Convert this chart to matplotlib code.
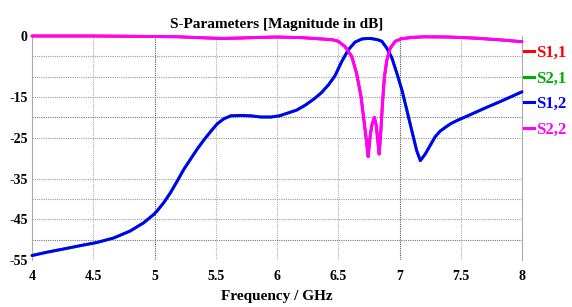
import matplotlib
matplotlib.use("Agg")
import matplotlib.pyplot as plt
from matplotlib.lines import Line2D

# ---- data ----
freq_s12 = [4.0, 4.12, 4.257, 4.39, 4.53, 4.666, 4.80, 4.91, 4.994, 5.02, 5.076, 5.13,
            5.186, 5.24, 5.295, 5.35, 5.404, 5.46, 5.514, 5.568, 5.623, 5.705, 5.787,
            5.87, 5.95, 6.02, 6.09, 6.16, 6.23, 6.3, 6.36, 6.42, 6.473, 6.528, 6.582,
            6.637, 6.692, 6.74, 6.774, 6.82, 6.856, 6.897, 6.938, 6.979, 7.02, 7.06,
            7.10, 7.14, 7.17, 7.21, 7.25, 7.29, 7.33, 7.38, 7.42, 7.48, 7.55, 7.69,
            7.83, 8.0]
s12_db = [-53.9, -53.1, -52.3, -51.5, -50.7, -49.6, -47.9, -45.9, -43.8, -43.0, -40.9,
          -38.5, -35.6, -32.7, -30.2, -27.7, -25.5, -23.4, -21.5, -20.3, -19.6, -19.5,
          -19.6, -19.9, -19.9, -19.6, -18.9, -18.2, -17.0, -15.5, -14.0, -12.0, -9.8,
          -6.3, -3.4, -1.5, -0.74, -0.6, -0.66, -0.9, -1.3, -3.0, -5.4, -9.2, -13.3,
          -18.2, -23.2, -28.1, -30.6, -29.0, -26.9, -24.8, -23.4, -22.3, -21.5, -20.6,
          -19.7, -17.8, -16.0, -13.7]

freq_s22 = [4.0, 4.5, 4.9, 5.2, 5.4, 5.55, 5.7, 5.85, 6.0, 6.2, 6.35, 6.45, 6.5, 6.555,
            6.61, 6.65, 6.686, 6.713, 6.733, 6.744, 6.76, 6.774, 6.795, 6.81, 6.823,
            6.834, 6.848, 6.861, 6.877, 6.897, 6.924, 6.965, 7.02, 7.1, 7.2, 7.4, 7.6,
            7.8, 8.0]
s22_db = [0.0, 0.0, -0.1, -0.2, -0.45, -0.6, -0.5, -0.35, -0.25, -0.4, -0.7, -0.9, -1.3,
          -2.6, -5.0, -9.2, -14.9, -21.5, -26.5, -29.6, -24.8, -21.9, -20.0, -21.9,
          -25.7, -29.0, -23.2, -16.6, -10.0, -5.9, -3.0, -1.3, -0.66, -0.35, -0.2,
          -0.25, -0.5, -0.9, -1.4]

# symmetric network: S1,1 coincides with S2,2 and S2,1 with S1,2
freq_s11, s11_db = freq_s22, s22_db
freq_s21, s21_db = freq_s12, s12_db

series_names = ["S1,1", "S2,1", "S1,2", "S2,2"]
series_colors = ["#ff0000", "#00b000", "#0000ff", "#ff00ff"]

xtick_values = [4, 4.5, 5, 5.5, 6, 6.5, 7, 7.5, 8]
xtick_labels = ["4", "4.5", "5", "5.5", "6", "6.5", "7", "7.5", "8"]
ytick_values = [0, -15, -25, -35, -45, -55]
ytick_labels = ["0", "-15", "-25", "-35", "-45", "-55"]

title = "S-Parameters [Magnitude in dB]"
xlabel = "Frequency / GHz"

# ---- figure ----
plt.rcParams["font.family"] = ["Liberation Serif", "DejaVu Serif"]
plt.rcParams["font.weight"] = "bold"

fig = plt.figure(figsize=(5.72, 3.07), dpi=100)
ax = fig.add_axes([32 / 572, 1 - 260 / 307, 490 / 572, 224 / 307])

xs = [freq_s11, freq_s21, freq_s12, freq_s22]
ys = [s11_db, s21_db, s12_db, s22_db]
for x, y, c in zip(xs, ys, series_colors):
    ax.plot(x, y, color=c, lw=2.1, solid_capstyle="round", solid_joinstyle="round",
            clip_on=False, zorder=3)

ax.set_xlim(4, 8)
ax.set_ylim(-55, 0)

# grid lines (dotted, gray)
for xv in [4.5, 5, 5.5, 6, 6.5, 7, 7.5]:
    col = "#555555" if xv in (5, 7) else "#b0b0b0"
    ax.axvline(xv, color=col, ls=(0, (1, 1)), lw=0.8, zorder=1)
for yv in [-5, -10, -15, -20, -25, -35, -40, -45, -50]:
    col = "#777777" if yv in (-20, -50) else "#9a9a9a"
    ax.axhline(yv, color=col, ls=(0, (1, 1)), lw=0.8, zorder=1)

ax.set_xticks(xtick_values)
ax.set_xticklabels(xtick_labels, fontsize=10, fontweight="bold")
ax.set_yticks(ytick_values)
ax.set_yticklabels(ytick_labels, fontsize=10, fontweight="bold")
ax.tick_params(axis="both", length=0)
ax.tick_params(axis="x", pad=7)
ax.tick_params(axis="y", pad=3)

for s in ["top", "bottom"]:
    ax.spines[s].set_visible(False)
for s in ["left", "right"]:
    ax.spines[s].set_color("#aaaaaa")
    ax.spines[s].set_linewidth(0.8)

ax.set_title(title, fontsize=11, fontweight="bold", pad=6)
ax.set_xlabel(xlabel, fontsize=11, fontweight="bold", labelpad=5)

handles = [Line2D([], [], color=c, lw=2.2) for c in series_colors]
leg = ax.legend(handles, series_names, loc="upper left",
                bbox_to_anchor=(524 / 572, 1 - 45 / 307), bbox_transform=fig.transFigure,
                frameon=False, handlelength=0.6, handletextpad=0.15,
                labelspacing=0.58, borderpad=0, borderaxespad=0, labelcolor="linecolor",
                prop={"weight": "bold", "size": 12})

fig.savefig("out.png", dpi=100)
